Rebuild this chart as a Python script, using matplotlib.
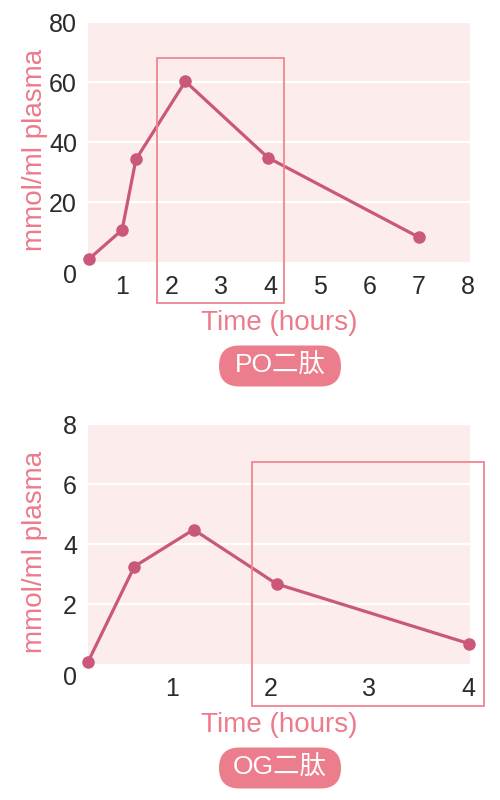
import matplotlib
matplotlib.use("Agg")
import matplotlib.pyplot as plt
from matplotlib.patches import Rectangle, FancyBboxPatch

plt.rcParams['font.family'] = ['Liberation Sans', 'Noto Sans CJK JP', 'DejaVu Sans']

# PO dipeptide (top panel)
po_time = [0.33, 1.0, 1.28, 2.28, 3.95, 7.0]
po_conc = [1.0, 10.7, 34.2, 60.2, 34.8, 8.3]
po_xticks = [1, 2, 3, 4, 5, 6, 7, 8]
po_yticks = [20, 40, 60, 80]

# OG dipeptide (bottom panel)
og_time = [0.15, 0.62, 1.22, 2.06, 4.01]
og_conc = [0.07, 3.25, 4.48, 2.67, 0.68]
og_xticks = [1, 2, 3, 4]
og_yticks = [2, 4, 6, 8]

line_col = '#c9587a'
label_col = '#ec7b8b'
bg_col = '#fcecec'
box_col = '#f08593'
tick_col = '#2b2b2b'

fig = plt.figure(figsize=(5, 8), dpi=100)


def panel(rect, t, c, xlim, ylim, xticks, yticks, box, badge, badge_y):
    ax = fig.add_axes(rect)
    ax.set_facecolor(bg_col)
    for s in ax.spines.values():
        s.set_visible(False)
    ax.plot(t, c, color=line_col, lw=2.3, marker='o', ms=8, clip_on=False, zorder=3)
    ax.set_xlim(*xlim)
    ax.set_ylim(*ylim)
    ax.set_xticks(xticks)
    ax.set_yticks(yticks)
    ax.grid(axis='y', color='white', lw=1.6)
    ax.set_axisbelow(True)
    ax.tick_params(axis='both', length=0, labelsize=18, colors=tick_col)
    ax.tick_params(axis='x', pad=9.5)
    ax.tick_params(axis='y', pad=8)
    # origin label sits a bit lower than the zero line
    ax.annotate('0', xy=(0, 0), xycoords=('axes fraction', 'data'),
                xytext=(-11, -14), textcoords='offset pixels',
                ha='right', va='center', fontsize=18, color=tick_col)
    ax.set_xlabel('Time (hours)', fontsize=20, color=label_col)
    ax.xaxis.set_label_coords(0.5, -0.256)
    ax.xaxis.label.set_va('center')
    ax.set_ylabel('mmol/ml plasma', fontsize=20, color=label_col)
    ax.yaxis.set_label_coords(-0.139, 0.465)
    ax.yaxis.label.set_va('center')
    x0, x1, y0, y1 = box
    ax.add_patch(Rectangle((x0, y0), x1 - x0, y1 - y0, fill=False,
                           ec=box_col, lw=1.3, clip_on=False, zorder=4))
    pill = FancyBboxPatch((2.19, badge_y), 1.22, 0.41,
                          boxstyle='round,pad=0,rounding_size=0.205',
                          transform=fig.dpi_scale_trans, fc='#ec7d8c', ec='none')
    fig.patches.append(pill)
    fig.text(2.80 / 5, (badge_y + 0.205) / 8, badge, ha='center', va='center',
             fontsize=19, color='white')
    return ax


panel([0.176, 0.6725, 0.764, 0.30], po_time, po_conc, (0.31, 8.04), (0, 80),
      po_xticks, po_yticks, (1.71, 4.28, -13.6, 68), 'PO二肽', 4.135)
panel([0.176, 0.17, 0.764, 0.30], og_time, og_conc, (0.15, 4.02), (0, 8),
      og_xticks, og_yticks, (1.81, 4.16, -1.4, 6.73), 'OG二肽', 0.115)

fig.savefig('out.png', dpi=100)
